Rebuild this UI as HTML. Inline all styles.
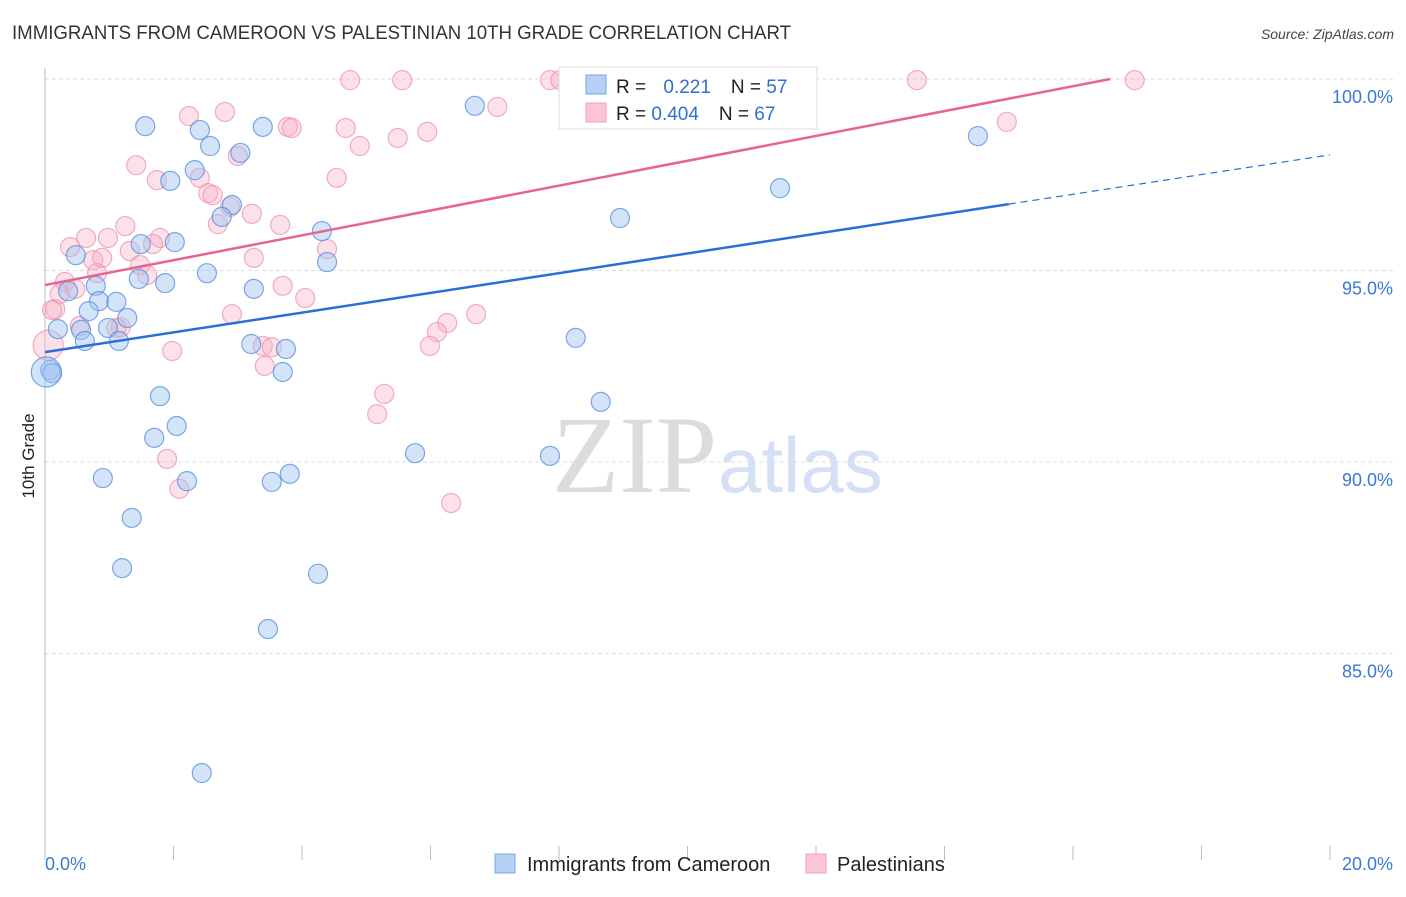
<!DOCTYPE html>
<html><head><meta charset="utf-8"><style>
body{margin:0;background:#fff;font-family:"Liberation Sans",sans-serif}
</style></head><body>
<svg id="chart" width="1406" height="892" xmlns="http://www.w3.org/2000/svg" font-family="Liberation Sans, sans-serif">
<text x="12" y="39" font-size="19.5" fill="#333" textLength="779" lengthAdjust="spacingAndGlyphs">IMMIGRANTS FROM CAMEROON VS PALESTINIAN 10TH GRADE CORRELATION CHART</text>
<text x="1394" y="39" font-size="14" font-style="italic" fill="#444" text-anchor="end">Source: ZipAtlas.com</text>
<text transform="translate(34,456) rotate(-90)" font-size="17" fill="#222" text-anchor="middle">10th Grade</text>
<g id="grid"></g>
<text x="552" y="492" font-size="110" font-family="Liberation Serif, serif" fill="#dcdcdc">ZIP</text>
<text x="718" y="492" font-size="78" fill="#d4e1f4">atlas</text>
<g id="pts"></g>
<g id="lines"></g>
<g>
<rect x="559" y="67" width="258" height="62" fill="#fff" stroke="#ddd"/>
<rect x="586" y="75" width="20" height="19" fill="#b7d0f5" stroke="#7aa6e6"/>
<rect x="586" y="103" width="20" height="19" fill="#fbc5d4" stroke="#f0a0b8"/>
<text x="616" y="93" font-size="19" fill="#222">R = <tspan fill="#2f6fd0" dx="12">0.221</tspan><tspan dx="20" fill="#222">N = </tspan><tspan fill="#2f6fd0">57</tspan></text>
<text x="616" y="120" font-size="19" fill="#222">R = <tspan fill="#2f6fd0">0.404</tspan><tspan dx="20" fill="#222">N = </tspan><tspan fill="#2f6fd0">67</tspan></text>
</g>
<g>
<rect x="495" y="854" width="20" height="19" fill="#b7d0f5" stroke="#7aa6e6"/>
<text x="527" y="871" font-size="20" fill="#222">Immigrants from Cameroon</text>
<rect x="806" y="854" width="20" height="19" fill="#fbc5d4" stroke="#f0a0b8"/>
<text x="837" y="871" font-size="20" fill="#222">Palestinians</text>
</g>
</svg>
<script>
const blueX=[1.56,2.41,3.39,2.57,3.04,2.33,1.95,2.91,2.75,4.31,2.02,1.49,0.48,4.39,2.52,1.46,1.87,0.79,0.36,3.25,0.84,1.11,0.68,1.28,0.20,0.56,0.98,0.62,1.15,3.21,3.75,3.70,0.08,0.11,1.79,2.05,1.70,0.90,2.21,3.53,3.81,1.35,1.20,4.25,3.47,2.44,6.69,8.95,11.44,14.52,8.26,8.65,5.76,7.86,11.83,11.75,0.02];
const blueY=[98.77,98.67,98.75,98.25,98.07,97.62,97.34,96.71,96.40,96.03,95.74,95.69,95.40,95.22,94.93,94.78,94.67,94.60,94.46,94.52,94.20,94.18,93.94,93.76,93.47,93.45,93.50,93.16,93.16,93.08,92.95,92.35,92.40,92.32,91.72,90.94,90.63,89.58,89.50,89.48,89.69,88.54,87.23,87.08,85.64,81.88,99.30,96.37,97.15,98.51,93.24,91.57,90.23,90.16,99.97,99.97,92.35];
const pinkX=[1.42,1.74,2.24,2.80,3.78,3.84,4.68,4.90,5.49,5.95,4.54,4.75,5.56,7.86,8.02,13.57,16.96,14.97,7.04,3.00,2.41,2.54,2.61,2.69,3.22,3.66,2.88,1.25,0.64,0.98,0.39,1.79,1.68,1.32,0.75,0.89,1.48,0.81,1.59,0.31,0.23,0.47,4.39,3.25,3.70,4.05,2.91,0.16,0.05,0.54,1.18,1.98,3.39,3.53,3.42,5.28,5.17,6.26,6.10,5.99,6.71,1.90,2.09,6.32,1.11,0.11];
const pinkY=[97.75,97.36,99.03,99.14,98.75,98.72,98.72,98.25,98.46,98.62,97.42,99.97,99.97,99.97,99.97,99.97,99.97,98.88,99.27,97.99,97.42,97.02,96.97,96.21,96.48,96.19,96.66,96.16,95.85,95.85,95.61,95.85,95.69,95.51,95.27,95.33,95.14,94.93,94.88,94.70,94.39,94.52,95.56,95.33,94.60,94.28,93.86,93.99,93.05,93.55,93.52,92.90,93.03,93.00,92.51,91.78,91.25,93.63,93.39,93.03,93.86,90.08,89.30,88.93,93.50,93.97];
const yTicks=[100,95,90,85];
const yTickLabels=["100.0%","95.0%","90.0%","85.0%"];
const xTickLabels=["0.0%","20.0%"];
const blueTrend=[92.87,98.02];
const pinkTrend=[94.62,100];
const pinkTrendEndX=16.58;
const blueSolidEndX=15.0;
const NS="http://www.w3.org/2000/svg";
const X=v=>45+v*64.25, Y=v=>79+(100-v)*38.3;
function mk(t,a,p){const e=document.createElementNS(NS,t);for(const k in a)e.setAttribute(k,a[k]);p.appendChild(e);return e;}
const grid=document.getElementById('grid');
yTicks.forEach((t,i)=>{
 const l=mk('line',{x1:45,x2:1395,y1:Y(t),y2:Y(t),stroke:'#ddd','stroke-dasharray':'4,3'},grid);
 
 
 const tx=mk('text',{x:1393,y:Y(t)+24,'font-size':18,fill:'#3a78d6','text-anchor':'end'},grid);
 tx.textContent=yTickLabels[i];
 
 
});
const ax=mk('line',{x1:45,x2:45,y1:68,y2:846,stroke:'#bbb'},grid);


for(let i=0;i<=10;i++){
 const t=mk('line',{x1:X(i*2),x2:X(i*2),y1:846,y2:860,stroke:'#bbb'},grid);
 
 
}
[[0,'start',45],[20,'end',1393]].forEach((d,i)=>{
 const tx=mk('text',{x:d[2],y:870,'font-size':18,fill:'#3a78d6','text-anchor':d[1]},grid);
 tx.textContent=xTickLabels[i];
 
 
});
const pts=document.getElementById('pts');
function dots(xs,ys,fill,stroke,name){xs.forEach((x,i)=>{
 const r=(x<0.06)?15:9.5;
 const c=mk('circle',{cx:X(x),cy:Y(ys[i]),r:r,fill:fill,stroke:stroke,'stroke-width':1.2},pts);
 
 
});}
dots(pinkX,pinkY,'rgba(248,175,198,0.38)','rgba(236,140,170,0.7)','palestinian-point');
dots(blueX,blueY,'rgba(160,195,240,0.45)','rgba(80,140,225,0.75)','cameroon-point');
const lines=document.getElementById('lines');
const bAt=x=>blueTrend[0]+(blueTrend[1]-blueTrend[0])*x/20;
let l1=mk('line',{x1:X(0),y1:Y(bAt(0)),x2:X(blueSolidEndX),y2:Y(bAt(blueSolidEndX)),stroke:'#2a6fd6','stroke-width':2.5},lines);


let l2=mk('line',{x1:X(blueSolidEndX),y1:Y(bAt(blueSolidEndX)),x2:X(20),y2:Y(bAt(20)),stroke:'#2a6fd6','stroke-width':1.2,'stroke-dasharray':'7,5'},lines);


let l3=mk('line',{x1:X(0),y1:Y(pinkTrend[0]),x2:X(pinkTrendEndX),y2:Y(pinkTrend[1]),stroke:'#e8648f','stroke-width':2.5},lines);


</script>
</body></html>
